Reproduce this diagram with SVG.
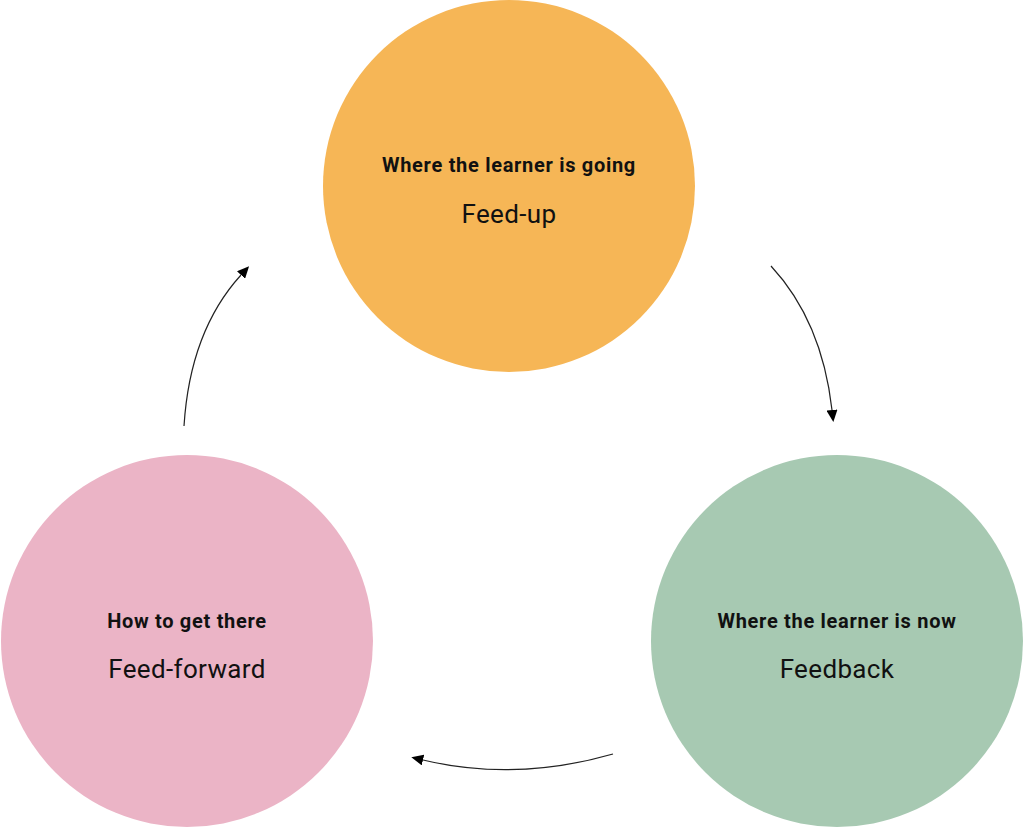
<svg xmlns="http://www.w3.org/2000/svg" width="1024" height="828" viewBox="0 0 1024 828">
<defs>
<style>
.t{font-family:Roboto,"Liberation Sans",sans-serif;font-weight:bold;font-size:20px;letter-spacing:0.7px;fill:#111;text-anchor:middle}
.s{font-family:Roboto,"Liberation Sans",sans-serif;font-size:26px;letter-spacing:0.35px;fill:#111;text-anchor:middle}
.c{fill:none;stroke:#222;stroke-width:1.2;marker-end:url(#ah)}
</style>
<marker id="ah" viewBox="0 0 10 10" refX="0" refY="5" markerWidth="12" markerHeight="11" markerUnits="userSpaceOnUse" orient="auto" preserveAspectRatio="none">
<path d="M0,0 L10,5 L0,10 Z" fill="#000"/>
</marker>
</defs>
<rect width="1024" height="828" fill="#fff"/>
<g id="node-feedup">
<circle cx="509" cy="186" r="186" fill="#F6B656"/>
<text class="t" x="509" y="172">Where the learner is going</text>
<text class="s" x="509" y="223">Feed-up</text>
</g>
<g id="node-feedback">
<circle cx="837" cy="641" r="186" fill="#A7C9B2"/>
<text class="t" x="837" y="628">Where the learner is now</text>
<text class="s" x="837" y="678">Feedback</text>
</g>
<g id="node-feedforward">
<circle cx="187" cy="641" r="186" fill="#EBB4C6"/>
<text class="t" x="187" y="628">How to get there</text>
<text class="s" x="187" y="678">Feed-forward</text>
</g>
<g id="connectors">
<path class="c" d="M771,266 Q822,321 832,410"/>
<path class="c" d="M613,754 Q515,782 423,760"/>
<path class="c" d="M184,426 Q190,331 241,275"/>
</g>
</svg>
